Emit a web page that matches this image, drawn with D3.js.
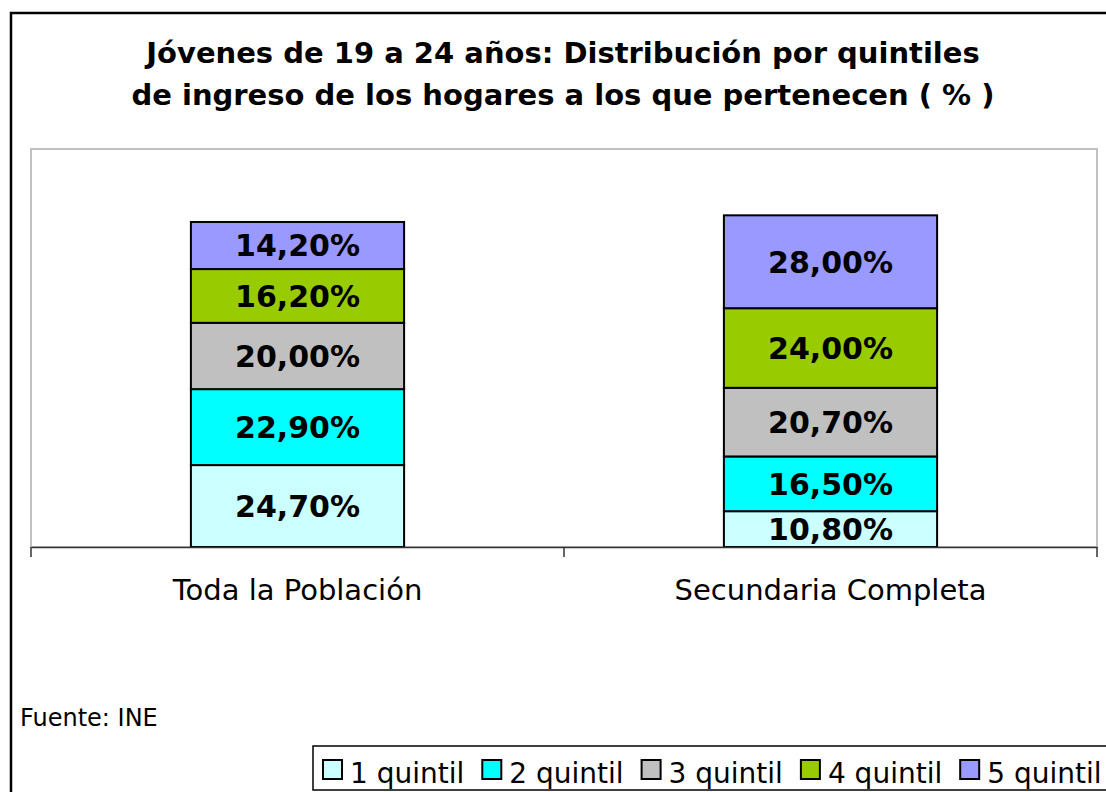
<!DOCTYPE html>
<meta charset="utf-8">
<script src="https://d3js.org/d3.v7.min.js"></script>
<style>
  body { margin: 0; background: #fff; }
  text { font-family: "DejaVu Sans", Verdana, sans-serif; }
</style>
<svg id="chart" width="1106" height="792"></svg>
<script>

  // data
  var categories = ["Toda la Población", "Secundaria Completa"];
  var quintiles = ["1 quintil", "2 quintil", "3 quintil", "4 quintil", "5 quintil"];
  var q1 = [24.7, 10.8];
  var q2 = [22.9, 16.5];
  var q3 = [20.0, 20.7];
  var q4 = [16.2, 24.0];
  var q5 = [14.2, 28.0];
  var labels = [
    ["24,70%", "22,90%", "20,00%", "16,20%", "14,20%"],
    ["10,80%", "16,50%", "20,70%", "24,00%", "28,00%"]
  ];
  var colors = ["#ccffff", "#00ffff", "#c0c0c0", "#99cc00", "#9999ff"];

  var svg = d3.select("#chart");

  // outer frame (runs off the right and bottom edges)
  svg.append("rect")
    .attr("x", 11).attr("y", 13)
    .attr("width", 1110).attr("height", 800)
    .attr("fill", "white").attr("stroke", "black").attr("stroke-width", 2.5);

  // title
  var title = svg.append("text")
    .attr("text-anchor", "middle")
    .style("font-weight", "bold")
    .style("font-size", "29px");
  title.append("tspan").attr("x", 563).attr("y", 63).text("Jóvenes de 19 a 24 años: Distribución por quintiles");
  title.append("tspan").attr("x", 563).attr("y", 105).text("de ingreso de los hogares a los que pertenecen ( % )");

  // plot area
  var plotL = 31, plotR = 1097, plotT = 149, plotB = 547;

  svg.append("rect")
    .attr("x", plotL).attr("y", plotT)
    .attr("width", plotR - plotL).attr("height", plotB - plotT)
    .attr("fill", "white").attr("stroke", "#c0c0c0").attr("stroke-width", 2);

  var x = d3.scaleBand()
    .domain(categories)
    .range([plotL, plotR]);

  var y = d3.scaleLinear()
    .domain([0, 120])
    .range([plotB, plotT]);

  var rows = categories.map(function(c, i) {
    return { cat: c, q0: q1[i], q1: q2[i], q2: q3[i], q3: q4[i], q4: q5[i] };
  });
  var series = d3.stack().keys(["q0", "q1", "q2", "q3", "q4"])(rows);

  var barW = x.bandwidth() * 0.4;

  var g = svg.append("g");
  series.forEach(function(s, k) {
    g.selectAll(".seg" + k)
      .data(s)
      .enter()
      .append("rect")
        .attr("x", function(d) { return x(d.data.cat) + (x.bandwidth() - barW) / 2; })
        .attr("y", function(d) { return y(d[1]); })
        .attr("width", barW)
        .attr("height", function(d) { return y(d[0]) - y(d[1]); })
        .attr("fill", colors[k])
        .attr("stroke", "black")
        .attr("stroke-width", 2);
  });

  series.forEach(function(s, k) {
    g.selectAll(".lab" + k)
      .data(s)
      .enter()
      .append("text")
        .attr("x", function(d) { return x(d.data.cat) + x.bandwidth() / 2; })
        .attr("y", function(d) { return (y(d[0]) + y(d[1])) / 2; })
        .attr("dy", "0.36em")
        .attr("text-anchor", "middle")
        .style("font-weight", "bold")
        .style("font-size", "30px")
        .text(function(d, i) { return labels[i][k]; });
  });

  // x axis
  var axis = svg.append("g")
    .attr("transform", "translate(0," + plotB + ")")
    .call(d3.axisBottom(x).tickSize(0).tickPadding(32));
  axis.select(".domain").attr("stroke", "#333").attr("stroke-width", 1.5);
  axis.selectAll(".tick text")
    .style("font-size", "29px")
    .style("font-family", "DejaVu Sans, Verdana, sans-serif")
    .attr("fill", "black");
  // tick marks between categories
  var tickX = [plotL, x(categories[1]), plotR];
  axis.selectAll(".sep")
    .data(tickX)
    .enter()
    .append("line")
      .attr("x1", function(d) { return d; }).attr("x2", function(d) { return d; })
      .attr("y1", 0).attr("y2", 10)
      .attr("stroke", "#333").attr("stroke-width", 1.5);

  // source
  svg.append("text")
    .attr("x", 20).attr("y", 726)
    .style("font-size", "24px")
    .text("Fuente: INE");

  // legend
  var legend = svg.append("g");
  legend.append("rect")
    .attr("x", 313).attr("y", 746)
    .attr("width", 820).attr("height", 44)
    .attr("fill", "white").attr("stroke", "black").attr("stroke-width", 1.5);

  var lx = 323;
  quintiles.forEach(function(q, k) {
    legend.append("rect")
      .attr("x", lx).attr("y", 760)
      .attr("width", 19).attr("height", 19)
      .attr("fill", colors[k]).attr("stroke", "black").attr("stroke-width", 2);
    var t = legend.append("text")
      .attr("x", lx + 27).attr("y", 783)
      .style("font-size", "28px")
      .text(q);
    lx += 27 + t.node().getComputedTextLength() + 18;
  });

</script>
